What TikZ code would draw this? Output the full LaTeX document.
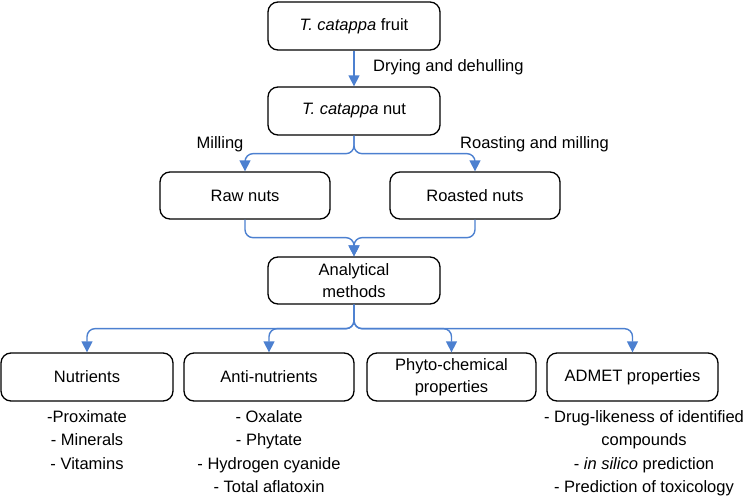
\documentclass[tikz,border=0pt]{standalone}
\usepackage{fontspec}
\setmainfont{Liberation Sans}
\usetikzlibrary{arrows.meta}
\definecolor{linkblue}{RGB}{76,128,208}
\begin{document}
\begin{tikzpicture}[x=1pt,y=-1pt,
  font=\fontsize{16.5}{21.5}\selectfont,
  box/.style={draw=black,line width=1.3pt,rounded corners=10pt,align=center,inner sep=0pt},
  conn/.style={draw=linkblue,line width=1.4pt,rounded corners=8pt,-{Triangle[width=11pt,length=11pt]}},
  lbl/.style={inner sep=0pt},
  lst/.style={inner sep=0pt,align=center,anchor=north,font=\fontsize{16.5}{23.5}\selectfont}]
\useasboundingbox (0,0) rectangle (748,499);
\node[box,minimum width=172pt,minimum height=48pt] (fruit) at (354,26) {\textit{T. catappa} fruit};
\node[box,minimum width=172pt,minimum height=48pt] (nut) at (354,111) {\textit{T. catappa} nut};
\node[box,minimum width=170pt,minimum height=47pt] (raw) at (245,195.5) {Raw nuts};
\node[box,minimum width=170pt,minimum height=47pt] (roast) at (475,195.5) {Roasted nuts};
\node[box,minimum width=172pt,minimum height=47pt] (anal) at (354,280.5) {Analytical\\methods};
\node[box,minimum width=172pt,minimum height=48pt] (nutr) at (87,377) {Nutrients};
\node[box,minimum width=170pt,minimum height=48pt] (anti) at (269,377) {Anti-nutrients};
\node[box,minimum width=169pt,minimum height=48pt] (phyto) at (451.5,377) {Phyto-chemical\\properties};
\node[box,minimum width=171pt,minimum height=48pt] (admet) at (632.5,377) {ADMET properties};

\node[lbl,anchor=west] (l1) at (373,67) {Drying and dehulling};
\node[lbl] (l2) at (220,144) {Milling};
\node[lbl,anchor=west] (l3) at (460,144) {Roasting and milling};

\node[lst] (t1) at (87,410) {-Proximate\\- Minerals\\- Vitamins};
\node[lst] (t2) at (269,410) {- Oxalate\\- Phytate\\- Hydrogen cyanide\\- Total aflatoxin};
\node[lst] (t3) at (644,410) {- Drug-likeness of identified\\compounds\\- \textit{in silico} prediction\\- Prediction of toxicology};

\draw[conn] (fruit.south) -- (nut.north);
\draw[conn] (nut.south) -- ++(0,18) -| (raw.north);
\draw[conn] (nut.south) -- ++(0,18) -| (roast.north);
\draw[conn] (raw.south) -- ++(0,18) -| (anal.north);
\draw[conn] (roast.south) -- ++(0,18) -| (anal.north);
\draw[conn] (anal.south) -- ++(0,24) -| (nutr.north);
\draw[conn] (anal.south) -- ++(0,24) -| (anti.north);
\draw[conn] (anal.south) -- ++(0,24) -| (phyto.north);
\draw[conn] (anal.south) -- ++(0,24) -| (admet.north);
\end{tikzpicture}
\end{document}
